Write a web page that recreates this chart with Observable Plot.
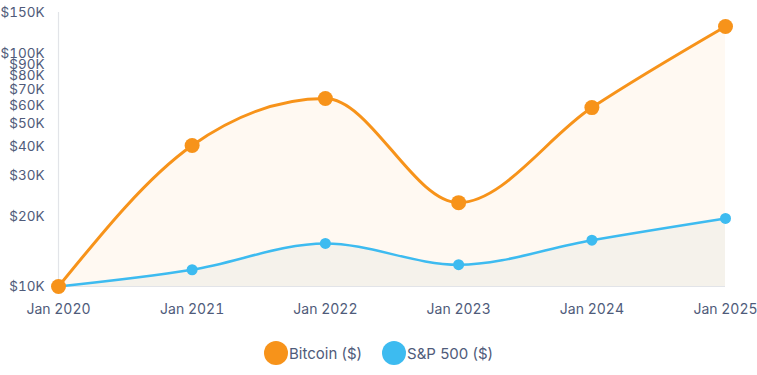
<!DOCTYPE html>
<html>
<head>
<meta charset="utf-8">
<script src="https://cdn.jsdelivr.net/npm/d3@7"></script>
<script src="https://cdn.jsdelivr.net/npm/@observablehq/plot@0.6"></script>
<style>
  html, body { margin: 0; padding: 0; background: #fff; }
  body { width: 757px; height: 375px; font-family: Inter, "Noto Sans", sans-serif; }
  #legend { display: flex; justify-content: center; align-items: center; gap: 20px; margin-top: 16px; font-size: 15px; color: #4f5b7a; }
  .item { display: flex; align-items: center; gap: 1px; }
  .sw { width: 24px; height: 24px; border-radius: 50%; display: inline-block; }
  svg g[aria-label="x-axis tick label"] text { font-size: 14px; }
</style>
</head>
<body>
<div id="chart"></div>
<div id="legend"></div>
<script>
const years = ["2020", "2021", "2022", "2023", "2024", "2025"];
const bitcoin = [10000, 40300, 64100, 22900, 58600, 130600];
const sp500 = [10000, 11800, 15300, 12400, 15800, 19600];
const yTicks = [10000, 20000, 30000, 40000, 50000, 60000, 70000, 80000, 90000, 100000, 150000];
const seriesNames = ["Bitcoin ($)", "S&P 500 ($)"];
const colors = ["#f7931a", "#3dbbf0"];

const dates = years.map(y => new Date(Date.UTC(+y, 0, 1)));
const btc = dates.map((d, i) => ({date: d, value: bitcoin[i], series: seriesNames[0]}));
const sp = dates.map((d, i) => ({date: d, value: sp500[i], series: seriesNames[1]}));

const chart = Plot.plot({
  width: 757,
  height: 325,
  marginLeft: 58,
  marginRight: 32,
  marginTop: 12,
  marginBottom: 39,
  style: {fontFamily: "Inter, 'Noto Sans', sans-serif", fontSize: "13.5px", color: "#4f5b7a", background: "transparent"},
  x: {type: "utc", domain: [dates[0], dates[5]], ticks: dates, tickFormat: d => "Jan " + d.getUTCFullYear(), tickSize: 0, tickPadding: 18, label: null},
  y: {type: "log", domain: [10000, 150000], ticks: yTicks, tickFormat: v => "$" + (v / 1000) + "K", tickSize: 0, tickPadding: 14, label: null},
  marks: [
    Plot.areaY(btc, {x: "date", y1: 10000, y2: "value", fill: colors[0], fillOpacity: 0.06, curve: "monotone-x"}),
    Plot.areaY(sp, {x: "date", y1: 10000, y2: "value", fill: "#6fa0a0", fillOpacity: 0.07, curve: "monotone-x"}),
    Plot.ruleX([dates[0]], {stroke: "#e2e4e8", strokeWidth: 1.2}),
    Plot.ruleY([10000], {stroke: "#e2e4e8", strokeWidth: 1.2}),
    Plot.line(sp, {x: "date", y: "value", stroke: colors[1], strokeWidth: 2.5, curve: "monotone-x"}),
    Plot.line(btc, {x: "date", y: "value", stroke: colors[0], strokeWidth: 3, curve: "monotone-x"}),
    Plot.dot(sp, {x: "date", y: "value", fill: colors[1], r: 5.5}),
    Plot.dot(btc, {x: "date", y: "value", fill: colors[0], r: 7.5})
  ]
});
document.getElementById("chart").appendChild(chart);

const legend = document.getElementById("legend");
seriesNames.forEach((name, i) => {
  const item = document.createElement("div");
  item.className = "item";
  const sw = document.createElement("span");
  sw.className = "sw";
  sw.style.background = colors[i];
  const t = document.createElement("span");
  t.textContent = name;
  item.appendChild(sw);
  item.appendChild(t);
  legend.appendChild(item);
});
</script>
</body>
</html>
